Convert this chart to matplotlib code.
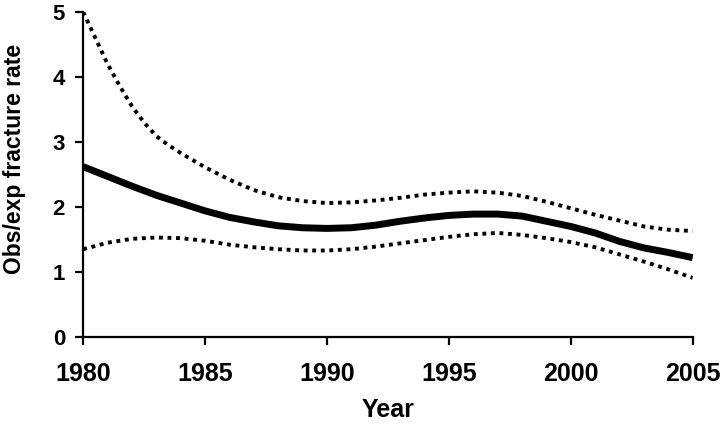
import matplotlib
matplotlib.use("Agg")
import matplotlib.pyplot as plt

years = list(range(1980, 2006))

ratio = [2.62, 2.47, 2.32, 2.18, 2.06, 1.94, 1.84, 1.77, 1.71, 1.68,
         1.67, 1.68, 1.72, 1.78, 1.83, 1.87, 1.89, 1.89, 1.86, 1.78,
         1.70, 1.60, 1.47, 1.37, 1.30, 1.22]

# upper limit read every half year where it bends sharply
upper_years = [1980, 1980.5, 1981, 1981.5, 1982, 1982.5, 1983, 1983.5,
               1984, 1985, 1986, 1987, 1988, 1989, 1990, 1991, 1992, 1993,
               1994, 1995, 1996, 1997, 1998, 1999, 2000, 2001, 2002, 2003,
               2004, 2005]
upper = [5.00, 4.60, 4.20, 3.86, 3.55, 3.30, 3.09, 2.95,
         2.83, 2.61, 2.42, 2.26, 2.15, 2.09, 2.06, 2.07, 2.10, 2.14,
         2.19, 2.22, 2.24, 2.22, 2.17, 2.08, 1.98, 1.88, 1.79, 1.70,
         1.65, 1.63]

lower = [1.35, 1.45, 1.51, 1.53, 1.52, 1.48, 1.42, 1.38, 1.35, 1.33,
         1.33, 1.35, 1.39, 1.44, 1.49, 1.54, 1.58, 1.60, 1.57, 1.52,
         1.46, 1.38, 1.27, 1.16, 1.04, 0.91]

xticks = [1980, 1985, 1990, 1995, 2000, 2005]
yticks = [0, 1, 2, 3, 4, 5]

plt.rcParams["font.family"] = ["Liberation Sans", "DejaVu Sans"]
plt.rcParams["font.weight"] = "bold"

fig = plt.figure(figsize=(7.23, 4.26), dpi=100)
ax = fig.add_axes([0.115, 0.209, 0.843, 0.763])

dots = (0, (1, 1.2))
ax.plot(upper_years, upper, color="black", lw=2.8, linestyle=dots,
        dash_capstyle="butt", dash_joinstyle="round")
ax.plot(years, lower, color="black", lw=2.8, linestyle=dots,
        dash_capstyle="butt", dash_joinstyle="round")
ax.plot(years, ratio, color="black", lw=5, solid_capstyle="butt",
        solid_joinstyle="round")

ax.set_xlim(1980, 2005)
ax.set_ylim(0, 5)
ax.set_xticks(xticks)
ax.set_yticks(yticks)

for side in ["top", "right"]:
    ax.spines[side].set_visible(False)
for side in ["left", "bottom"]:
    ax.spines[side].set_linewidth(1.6)

ax.tick_params(axis="both", direction="out", length=6, width=1.6)
ax.tick_params(axis="x", labelsize=18, pad=12)
ax.tick_params(axis="y", labelsize=16, pad=7)

ax.set_xlabel("Year", fontsize=18, fontweight="bold", labelpad=9)
ax.set_ylabel("Obs/exp fracture rate", fontsize=16.5, fontweight="bold")
ax.yaxis.set_label_coords(-0.093, 0.548)

fig.savefig("out.png", dpi=100)
